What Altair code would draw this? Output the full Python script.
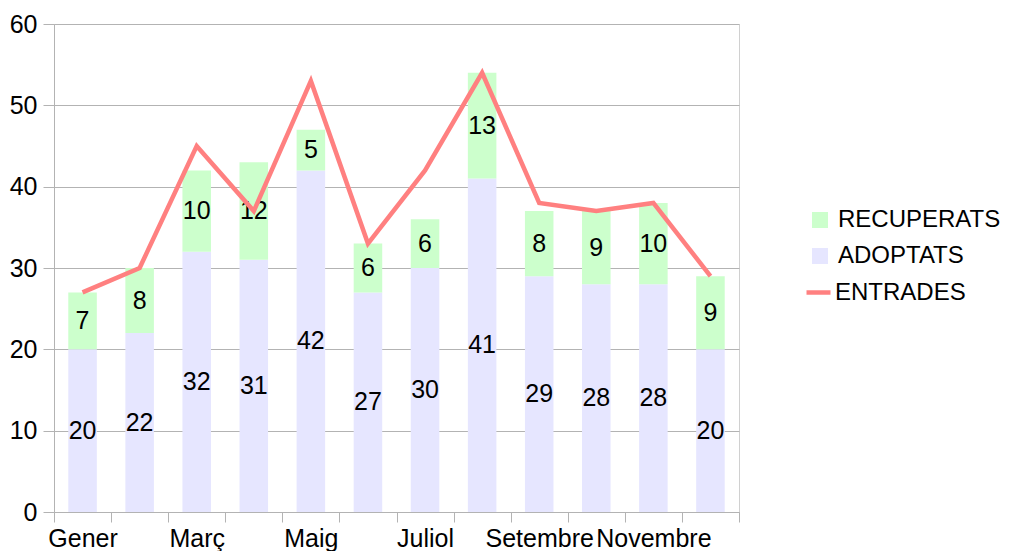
import altair as alt
import pandas as pd

months = ["Gener", "Febrer", "Març", "Abril", "Maig", "Juny", "Juliol",
          "Agost", "Setembre", "Octubre", "Novembre", "Desembre"]
adoptats = [20, 22, 32, 31, 42, 27, 30, 41, 29, 28, 28, 20]
recuperats = [7, 8, 10, 12, 5, 6, 6, 13, 8, 9, 10, 9]
entrades = [27, 30, 45, 37, 53, 33, 42, 54, 38, 37, 38, 29]
shown_labels = ["Gener", "Març", "Maig", "Juliol", "Setembre", "Novembre"]

FONT = "Liberation Sans"
FS = 25

rows = []
for m, a, r in zip(months, adoptats, recuperats):
    rows.append({"month": m, "serie": "ADOPTATS", "value": a, "ord": 0})
    rows.append({"month": m, "serie": "RECUPERATS", "value": r, "ord": 1})
bars_df = pd.DataFrame(rows)
line_df = pd.DataFrame({"month": months, "entrades": entrades, "serie": ["ENTRADES"] * len(months)})

label_list = "[" + ",".join("'" + s + "'" for s in shown_labels) + "]"

x_enc = alt.X(
    "month:N", sort=months,
    scale=alt.Scale(paddingInner=0, paddingOuter=0),
    axis=alt.Axis(
        title=None, tickBand="extent", grid=False, labelAngle=0,
        labelExpr="indexof(" + label_list + ", datum.value) >= 0 ? datum.value : ''",
        labelOverlap=False, labelFont=FONT, labelFontSize=FS, labelColor="black",
        labelPadding=4, tickSize=10, tickColor="#b3b3b3", domainColor="#b3b3b3",
    ),
)
y_scale = alt.Scale(domain=[0, 60])
y_axis = alt.Axis(
    title=None, values=[0, 10, 20, 30, 40, 50, 60], gridColor="#b3b3b3",
    labelFont=FONT, labelFontSize=FS, labelColor="black", labelPadding=6,
    tickSize=11, tickColor="#b3b3b3", domainColor="#b3b3b3",
)

bars = alt.Chart(bars_df).mark_bar(width=alt.RelativeBandSize(0.5)).encode(
    x=x_enc,
    y=alt.Y("value:Q", stack="zero", scale=y_scale, axis=y_axis),
    color=alt.Color(
        "serie:N",
        scale=alt.Scale(domain=["RECUPERATS", "ADOPTATS"], range=["#ccffcc", "#e6e6ff"]),
        legend=alt.Legend(
            title=None, orient="none", legendX=754, legendY=184, padding=0,
            symbolType="square", symbolSize=256, symbolStrokeWidth=0,
            labelFont=FONT, labelFontSize=24, labelColor="black", labelOffset=6,
            rowPadding=12, labelLimit=0,
        ),
    ),
    order=alt.Order("ord:Q"),
)

texts = alt.Chart(bars_df).transform_stack(
    stack="value", groupby=["month"], as_=["v0", "v1"], sort=[alt.SortField("ord")]
).transform_calculate(
    mid="(datum.v0 + datum.v1) / 2"
).mark_text(font=FONT, fontSize=FS, color="black", baseline="middle", align="center").encode(
    x=alt.X("month:N", sort=months),
    y=alt.Y("mid:Q"),
    text=alt.Text("value:Q"),
)

line = alt.Chart(line_df).mark_line(strokeWidth=4.5, strokeJoin="miter").encode(
    x=alt.X("month:N", sort=months),
    y=alt.Y("entrades:Q"),
    stroke=alt.Stroke(
        "serie:N",
        scale=alt.Scale(domain=["ENTRADES"], range=["#ff8080"]),
        legend=alt.Legend(
            title=None, orient="none", legendX=750, legendY=254, padding=0,
            symbolType="stroke", symbolSize=576, symbolStrokeWidth=4.5,
            labelFont=FONT, labelFontSize=24, labelColor="black", labelOffset=2,
            labelLimit=0,
        ),
    ),
)

chart = alt.layer(bars, texts, line).resolve_scale(color="independent").properties(
    width=685, height=488,
    autosize=alt.AutoSizeParams(type="none"),
    padding={"left": 46, "top": 16, "right": 266, "bottom": 39},
).configure_view(stroke="#d0d0d0")

chart.save("out.html", embed_options={"renderer": "svg", "actions": False})
